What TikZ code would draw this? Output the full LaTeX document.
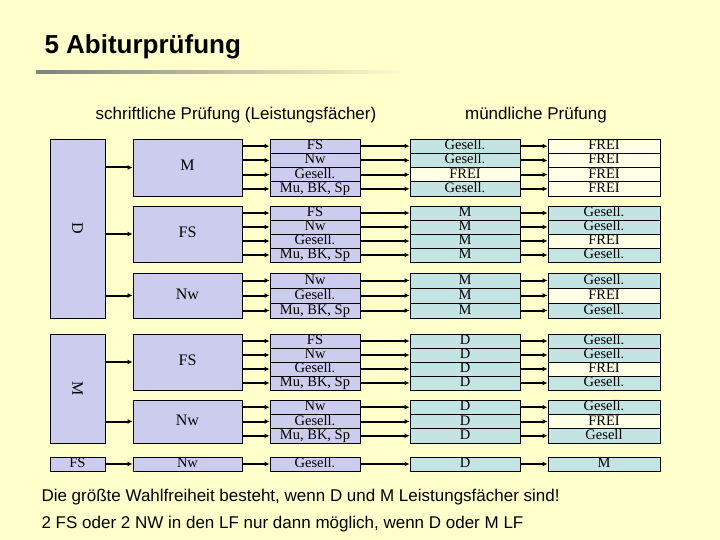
\documentclass[tikz,border=0pt]{standalone}
\usepackage{fontspec}
\setmainfont{Liberation Serif}
\newfontfamily\headfont{Liberation Sans}
\usetikzlibrary{arrows.meta}
\definecolor{bgyellow}{HTML}{FFFFCC}
\definecolor{lila}{HTML}{CCCCEE}
\definecolor{tuerkis}{HTML}{C4E4E4}
\definecolor{freicol}{HTML}{FFFFE6}

\begin{document}
\begin{tikzpicture}[x=1pt,y=-1pt,
  box/.style={draw,line width=0.9pt,inner sep=0pt,text height=9.5pt,text depth=2.5pt,
    font=\fontsize{14.5}{14}\selectfont},
  lf/.style={box,fill=lila},
  mdl/.style={box,fill=tuerkis},
  frei/.style={box,fill=freicol},
  arr/.style={line width=2pt,-{Latex[length=5pt,width=5pt]}}]

% background and title
\fill[bgyellow] (0,0) rectangle (720,540);
\useasboundingbox (0,0) rectangle (720,540);
\node[anchor=west,font=\headfont\bfseries\fontsize{26}{26}\selectfont] (title) at (41,47) {5 Abiturprüfung};
\shade[left color=gray,right color=bgyellow] (36,70.5) rectangle (410,74);
\node[font=\headfont\fontsize{17}{17}\selectfont] (hs) at (236,115) {schriftliche Prüfung (Leistungsfächer)};
\node[font=\headfont\fontsize{17}{17}\selectfont] (hm) at (536,115) {mündliche Prüfung};

% first column
\node[lf,minimum width=55,minimum height=179] (D) at (77.5,228.5) {};
\node[rotate=-90,font=\fontsize{16}{16}\selectfont] at (D) {D};
\node[lf,minimum width=55,minimum height=109] (M) at (77.5,388.5) {};
\node[rotate=-90,font=\fontsize{16}{16}\selectfont] at (M) {M};
\node[lf,minimum width=55,minimum height=14] (FS) at (77.5,464) {FS};

% Leistungsfaecher
\node[lf,minimum width=109,minimum height=57,font=\fontsize{16}{16}\selectfont] (gA) at (187.5,167.5) {M};
\node[lf,minimum width=109,minimum height=56,font=\fontsize{16}{16}\selectfont] (gB) at (187.5,234) {FS};
\node[lf,minimum width=109,minimum height=45,font=\fontsize{16}{16}\selectfont] (gC) at (187.5,295.5) {Nw};
\node[lf,minimum width=109,minimum height=56,font=\fontsize{16}{16}\selectfont] (gD) at (187.5,362) {FS};
\node[lf,minimum width=109,minimum height=43,font=\fontsize{16}{16}\selectfont] (gE) at (187.5,421.5) {Nw};
\node[lf,minimum width=109,minimum height=14] (gF) at (187.5,464) {Nw};

\draw[arr] (D.east |- gA) -- (gA.west);
\draw[arr] (D.east |- gB) -- (gB.west);
\draw[arr] (D.east |- gC) -- (gC.west);
\draw[arr] (M.east |- gD) -- (gD.west);
\draw[arr] (M.east |- gE) -- (gE.west);
\draw[arr] (FS) -- (gF);

% rows: name/group/y/height/3rd LF/4th/style/5th/style
\foreach \n/\g/\y/\h/\a/\b/\sb/\c/\sc in {
  1/gA/146.1/14.25/FS/Gesell./mdl/FREI/frei,
  2/gA/160.4/14.25/Nw/Gesell./mdl/FREI/frei,
  3/gA/174.6/14.25/Gesell./FREI/frei/FREI/frei,
  4/gA/188.9/14.25/{Mu, BK, Sp}/Gesell./mdl/FREI/frei,
  5/gB/213/14/FS/M/mdl/Gesell./mdl,
  6/gB/227/14/Nw/M/mdl/Gesell./mdl,
  7/gB/241/14/Gesell./M/mdl/FREI/frei,
  8/gB/255/14/{Mu, BK, Sp}/M/mdl/Gesell./mdl,
  9/gC/280.5/15/Nw/M/mdl/Gesell./mdl,
  10/gC/295.5/15/Gesell./M/mdl/FREI/frei,
  11/gC/310.5/15/{Mu, BK, Sp}/M/mdl/Gesell./mdl,
  12/gD/341/14/FS/D/mdl/Gesell./mdl,
  13/gD/355/14/Nw/D/mdl/Gesell./mdl,
  14/gD/369/14/Gesell./D/mdl/FREI/frei,
  15/gD/383/14/{Mu, BK, Sp}/D/mdl/Gesell./mdl,
  16/gE/407.2/14.33/Nw/D/mdl/Gesell./mdl,
  17/gE/421.5/14.33/Gesell./D/mdl/FREI/frei,
  18/gE/435.8/14.33/{Mu, BK, Sp}/D/mdl/Gesell/mdl,
  19/gF/464/14/Gesell./D/mdl/M/mdl}{
  \node[lf,minimum width=90,minimum height=\h] (r\n) at (315,\y) {\a};
  \node[\sb,minimum width=110,minimum height=\h] (s\n) at (465,\y) {\b};
  \node[\sc,minimum width=112,minimum height=\h] (t\n) at (604,\y) {\c};
  \draw[arr] (\g.east |- r\n) -- (r\n.west);
  \draw[arr] (r\n) -- (s\n);
  \draw[arr] (s\n) -- (t\n);
}

% notes
\node[anchor=west,font=\headfont\fontsize{17}{17}\selectfont] (n1) at (38,497) {Die größte Wahlfreiheit besteht, wenn D und M Leistungsfächer sind!};
\node[anchor=west,font=\headfont\fontsize{17}{17}\selectfont] (n2) at (38,524) {2 FS oder 2 NW in den LF nur dann möglich, wenn D oder M LF};
\end{tikzpicture}
\end{document}
